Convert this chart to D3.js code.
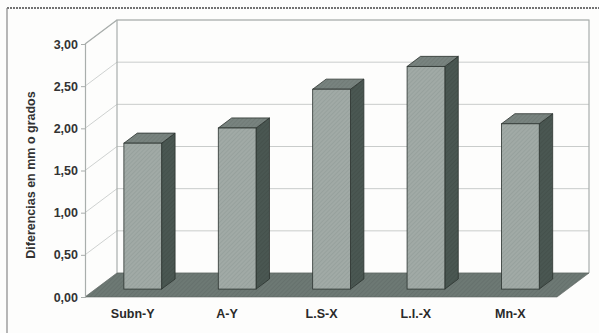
<!DOCTYPE html>
<html><head><meta charset="utf-8">
<script src="https://cdn.jsdelivr.net/npm/d3@7"></script>
<style>
html,body{margin:0;padding:0;background:#fdfdfc;}
svg{display:block;}
text{font-family:"Liberation Sans",Arial,sans-serif;font-weight:bold;}
</style></head>
<body><svg id="c" width="599" height="333"></svg>
<script>
const categories = ["Subn-Y","A-Y","L.S-X","L.I.-X","Mn-X"];
const values = [1.73, 1.91, 2.37, 2.64, 1.96];
const yTicks = [0,0.5,1,1.5,2,2.5,3];
const yTitle = "Diferencias en mm o grados";

const svg = d3.select("#c");
const X0 = 85, X1 = 557, Y0 = 297, Ytop = 44;
const DX = 32, DY = -24;          // full depth offset
const F0 = 0.33, F1 = 0.75;       // bar depth fractions

const y = d3.scaleLinear().domain([0,3]).range([Y0, Ytop]);
const x = d3.scaleBand().domain(categories).range([X0, X1]).paddingInner(0.6).paddingOuter(0.3);
const xc = d3.scalePoint().domain(categories).range([X0, X1]).padding(0.5);

// patterns
const defs = svg.append("defs");
function hatch(id, bg, line, op){
  const p = defs.append("pattern").attr("id", id).attr("patternUnits","userSpaceOnUse")
    .attr("width",3).attr("height",3).attr("patternTransform","rotate(45)");
  p.append("rect").attr("width",3).attr("height",3).attr("fill",bg);
  p.append("line").attr("x1",0).attr("y1",0).attr("x2",0).attr("y2",3)
    .attr("stroke",line).attr("stroke-width",1).attr("opacity",op);
}
hatch("hFront","#a1aaa6","#7f8985",0.6);
hatch("hSide","#4a5752","#36413d",0.6);
hatch("hTop","#78837f","#5d6763",0.6);
hatch("hFloor","#6d7974","#56605c",0.6);

// outer frame
svg.append("line").attr("x1",7).attr("y1",8).attr("x2",599).attr("y2",8)
  .attr("stroke","#444").attr("stroke-width",1.6).attr("stroke-dasharray","2,1");
svg.append("line").attr("x1",7).attr("y1",8).attr("x2",7).attr("y2",333)
  .attr("stroke","#888").attr("stroke-width",1.2);

const g = svg.append("g");
const wallC = "#a9aeac";

// back wall gridlines
g.selectAll(".grid").data(yTicks).join("line")
  .attr("x1", X0+DX).attr("x2", X1+DX)
  .attr("y1", d => y(d)+DY).attr("y2", d => y(d)+DY)
  .attr("stroke", "#c9cccb").attr("stroke-width",1);
// side wall diagonals
g.selectAll(".sgrid").data(yTicks).join("line")
  .attr("x1", X0).attr("x2", X0+DX)
  .attr("y1", d => y(d)).attr("y2", d => y(d)+DY)
  .attr("stroke", "#cfd2d1").attr("stroke-width",1);
// wall edges
g.append("path").attr("fill","none").attr("stroke",wallC).attr("stroke-width",1.2)
  .attr("d", `M${X0+DX},${y(0)+DY}V${y(3)+DY}H${X1+DX}V${y(0)+DY}`);
g.append("line").attr("x1",X0).attr("y1",y(3)).attr("x2",X0+DX).attr("y2",y(3)+DY)
  .attr("stroke",wallC).attr("stroke-width",1.2);

// floor
g.append("path").attr("fill","url(#hFloor)").attr("stroke","#5a625e").attr("stroke-width",0.6)
  .attr("d", `M${X0},${y(0)}L${X0+DX},${y(0)+DY}L${X1+DX},${y(0)+DY}L${X1},${y(0)}Z`);

// y axis
const yAxis = d3.axisLeft(y).tickValues(yTicks).tickSize(4).tickPadding(3)
  .tickFormat(d => d3.format(".2f")(d).replace(".", ","));
const ya = svg.append("g").attr("transform", `translate(${X0},0)`).call(yAxis);
ya.select(".domain").attr("stroke", wallC).attr("stroke-width",1.2);
ya.selectAll(".tick line").attr("stroke", wallC);
ya.selectAll(".tick text").attr("fill","#333").attr("font-size",12.5)
  .attr("font-family","'Liberation Sans',Arial,sans-serif").attr("font-weight","bold");

// bars
const bars = svg.append("g").selectAll("g").data(categories.map((c,i)=>({c, v: values[i]}))).join("g");
const fx = F0*DX, fy = F0*DY, bx = (F1-F0)*DX, by = (F1-F0)*DY;
bars.append("path").attr("fill","url(#hSide)").attr("stroke","#2b322f").attr("stroke-width",0.8)
  .attr("d", d => { const l = x(d.c)+fx, r = l + x.bandwidth(), t = y(d.v)+fy, b = y(0)+fy;
    return `M${r},${b}L${r+bx},${b+by}L${r+bx},${t+by}L${r},${t}Z`; });
bars.append("path").attr("fill","url(#hTop)").attr("stroke","#2b322f").attr("stroke-width",0.8)
  .attr("d", d => { const l = x(d.c)+fx, r = l + x.bandwidth(), t = y(d.v)+fy;
    return `M${l},${t}L${l+bx},${t+by}L${r+bx},${t+by}L${r},${t}Z`; });
bars.append("rect").attr("fill","url(#hFront)").attr("stroke","#2b322f").attr("stroke-width",0.8)
  .attr("x", d => x(d.c)+fx).attr("width", x.bandwidth())
  .attr("y", d => y(d.v)+fy).attr("height", d => y(0)-y(d.v));

// x axis labels
const xAxis = d3.axisBottom(xc).tickSize(0).tickPadding(12);
const xa = svg.append("g").attr("transform", `translate(0,${Y0})`).call(xAxis);
xa.select(".domain").remove();
xa.selectAll(".tick text").attr("fill","#2a2a2a").attr("font-size",12.5)
  .attr("font-family","'Liberation Sans',Arial,sans-serif").attr("font-weight","bold");

// y title
svg.append("text").attr("transform","translate(35,175) rotate(-90)")
  .attr("text-anchor","middle").attr("font-size",12.5).attr("fill","#333").text(yTitle);
</script></body></html>
